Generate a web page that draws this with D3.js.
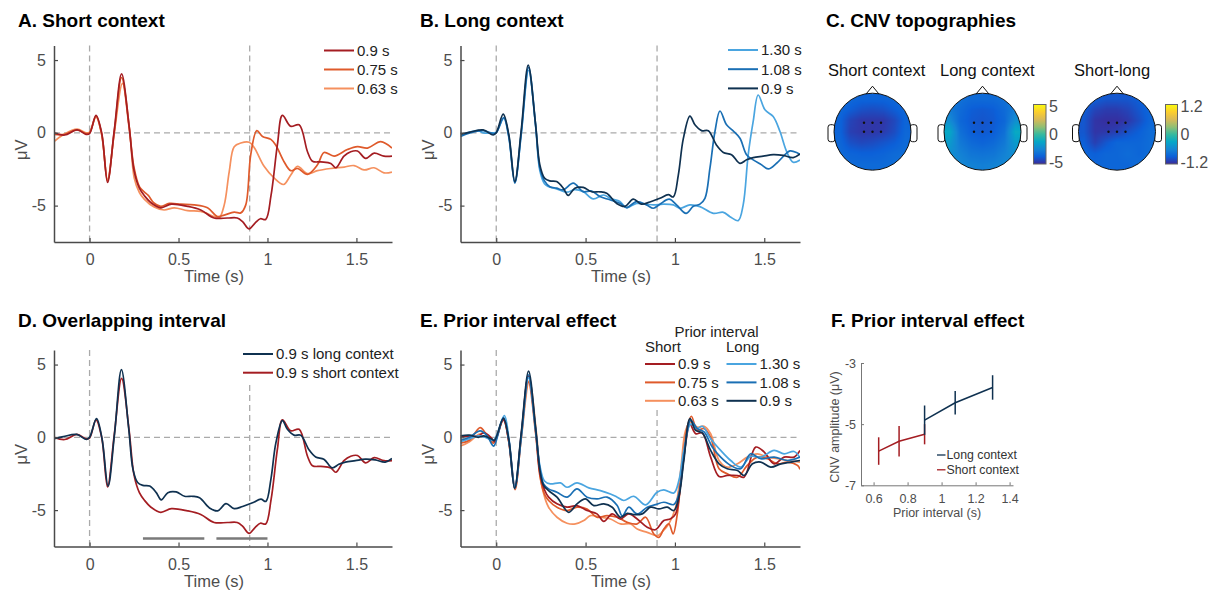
<!DOCTYPE html>
<html><head><meta charset="utf-8">
<script src="https://cdn.jsdelivr.net/npm/d3@7"></script>
<style>
body{margin:0;background:#fff}
svg{display:block;font-family:"Liberation Sans",Arial,Helvetica,sans-serif}
</style>
</head><body><script>
// ---------------- DATA ----------------
const timeDomain = [-0.2, 1.7];
const uvDomain = [-7.5, 6];
const timeTicks = [0, 0.5, 1, 1.5];
const timeTickLabels = ["0", "0.5", "1", "1.5"];
const uvTicks = [-5, 0, 5];
const eventTimes = [0, 0.9];

// Panel A: short context ERPs (time s, amplitude µV)
const shortCtx090 = [[-0.2,0.0],[-0.14,-0.15],[-0.07,0.2],[-0.02,-0.1],[0.0,-0.05],[0.036,1.2],[0.068,0.0],[0.101,-3.4],[0.139,0.2],[0.18,4.05],[0.222,0.5],[0.25,-2.6],[0.28,-3.8],[0.31,-4.35],[0.345,-4.8],[0.40,-5.15],[0.46,-4.9],[0.55,-5.05],[0.625,-5.3],[0.70,-5.85],[0.775,-5.85],[0.83,-5.85],[0.86,-6.1],[0.897,-6.6],[0.93,-6.2],[0.96,-5.9],[0.99,-5.95],[1.02,-4.3],[1.056,-0.8],[1.084,1.2],[1.13,0.45],[1.178,0.55],[1.225,-1.3],[1.253,-1.95],[1.3,-2.0],[1.356,-2.1],[1.384,-2.4],[1.43,-1.6],[1.468,-1.3],[1.506,-1.25],[1.552,-1.75],[1.6,-1.4],[1.655,-1.6],[1.7,-1.6]];
const shortCtx075 = [[-0.2,-0.1],[-0.14,-0.1],[-0.07,0.2],[-0.02,-0.05],[0.0,0.0],[0.036,1.15],[0.068,-0.1],[0.101,-3.3],[0.139,0.1],[0.18,3.8],[0.222,0.4],[0.25,-2.4],[0.28,-3.7],[0.307,-4.05],[0.33,-4.3],[0.36,-4.8],[0.40,-5.05],[0.448,-4.85],[0.513,-4.9],[0.588,-4.95],[0.663,-5.15],[0.719,-5.75],[0.757,-5.65],[0.813,-5.45],[0.85,-5.5],[0.878,-4.95],[0.906,-1.5],[0.94,0.15],[0.972,-0.25],[1.019,-0.45],[1.047,-0.85],[1.094,-2.0],[1.131,-2.6],[1.169,-2.45],[1.225,-2.85],[1.281,-2.2],[1.318,-1.35],[1.375,-1.6],[1.449,-1.15],[1.506,-0.95],[1.562,-1.05],[1.637,-0.6],[1.7,-1.05]];
const shortCtx063 = [[-0.2,-0.6],[-0.15,-0.15],[-0.07,0.25],[-0.02,0.0],[0.0,0.05],[0.036,1.1],[0.068,-0.1],[0.101,-3.2],[0.139,0.0],[0.185,3.4],[0.225,0.2],[0.251,-3.1],[0.28,-4.1],[0.307,-4.55],[0.363,-5.1],[0.419,-5.3],[0.476,-5.15],[0.551,-5.35],[0.625,-5.4],[0.70,-5.75],[0.728,-5.85],[0.757,-4.95],[0.785,-2.66],[0.813,-0.95],[0.85,-0.7],[0.897,-0.65],[0.925,-1.0],[0.981,-2.3],[1.037,-3.1],[1.09,-3.55],[1.131,-2.9],[1.169,-2.3],[1.225,-2.8],[1.281,-2.6],[1.356,-2.45],[1.431,-2.35],[1.487,-2.25],[1.543,-2.55],[1.599,-2.4],[1.655,-2.75],[1.7,-2.7]];

// Panel B: long context ERPs
const longCtx130 = [[-0.2,-0.2],[-0.147,0.05],[-0.1,0.15],[-0.073,0.0],[-0.017,0.0],[0.0,0.05],[0.042,1.0],[0.07,-0.3],[0.104,-3.4],[0.14,-0.1],[0.181,4.3],[0.22,0.5],[0.244,-2.6],[0.27,-3.5],[0.291,-3.69],[0.338,-3.85],[0.394,-4.08],[0.44,-3.9],[0.487,-4.04],[0.543,-4.54],[0.599,-4.27],[0.646,-4.54],[0.692,-4.72],[0.729,-5.14],[0.785,-4.85],[0.841,-4.9],[0.879,-4.95],[0.935,-4.9],[0.991,-4.95],[1.028,-5.18],[1.084,-4.95],[1.14,-5.07],[1.215,-5.53],[1.271,-5.46],[1.308,-5.76],[1.354,-6.03],[1.382,-4.95],[1.41,-1.51],[1.438,0.78],[1.466,2.6],[1.504,1.58],[1.55,1.12],[1.588,0.09],[1.625,-1.28],[1.662,-2.02],[1.7,-1.86]];
const longCtx108 = [[-0.2,-0.25],[-0.147,0.0],[-0.073,0.15],[-0.017,-0.05],[0.0,0.0],[0.042,1.05],[0.07,-0.2],[0.104,-3.45],[0.14,0.0],[0.181,4.5],[0.22,0.6],[0.244,-2.4],[0.27,-3.3],[0.3,-3.7],[0.338,-3.8],[0.375,-3.92],[0.431,-3.46],[0.487,-4.04],[0.534,-4.0],[0.58,-4.38],[0.636,-4.6],[0.692,-4.84],[0.729,-5.14],[0.785,-4.72],[0.841,-4.95],[0.879,-5.18],[0.916,-4.9],[0.968,-4.56],[1.009,-4.95],[1.062,-5.53],[1.103,-5.05],[1.14,-4.9],[1.168,-4.5],[1.196,-2.43],[1.224,0.09],[1.252,1.5],[1.289,0.55],[1.326,0.14],[1.364,-0.37],[1.401,-1.5],[1.438,-1.86],[1.485,-2.2],[1.522,-2.48],[1.569,-2.09],[1.616,-1.5],[1.644,-1.24],[1.681,-1.35],[1.7,-1.5]];
const longCtx090 = [[-0.2,-0.1],[-0.147,0.05],[-0.073,0.2],[-0.017,-0.15],[0.0,0.0],[0.039,1.28],[0.07,-0.1],[0.104,-3.35],[0.14,0.2],[0.179,4.65],[0.22,0.6],[0.244,-2.2],[0.27,-3.1],[0.3,-3.3],[0.338,-3.35],[0.375,-3.8],[0.403,-4.3],[0.44,-3.8],[0.487,-3.75],[0.534,-4.05],[0.58,-4.05],[0.618,-4.15],[0.674,-4.85],[0.72,-5.05],[0.767,-4.55],[0.813,-4.9],[0.86,-4.75],[0.916,-4.5],[0.963,-4.25],[0.991,-4.4],[1.019,-2.9],[1.047,-0.4],[1.084,1.15],[1.112,0.55],[1.149,0.15],[1.187,0.15],[1.233,-0.85],[1.271,-1.35],[1.317,-1.5],[1.364,-2.1],[1.401,-1.85],[1.438,-1.7],[1.494,-1.6],[1.55,-1.5],[1.606,-1.55],[1.662,-1.7],[1.7,-1.45]];

// Panel D: significant clusters (s)
const sigClusters = [[0.3, 0.645], [0.713, 1.0]];

// Panel E: prior interval effect ERPs
const priorShort090 = [[-0.2,0.1],[-0.15,0.05],[-0.1,0.1],[-0.07,0.3],[-0.03,0.0],[-0.01,-0.3],[0.04,1.2],[0.07,-0.2],[0.105,-3.4],[0.14,0.2],[0.18,4.2],[0.22,0.5],[0.245,-2.5],[0.27,-3.6],[0.293,-4.11],[0.34,-4.57],[0.396,-4.8],[0.452,-4.69],[0.508,-5.03],[0.564,-5.26],[0.602,-5.77],[0.649,-5.26],[0.695,-5.61],[0.742,-5.26],[0.789,-5.61],[0.845,-6.18],[0.89,-6.35],[0.938,-5.72],[0.976,-5.6],[1.004,-5.26],[1.032,-3.2],[1.06,-0.44],[1.084,0.9],[1.116,0.25],[1.153,0.3],[1.2,-1.36],[1.247,-2.69],[1.293,-2.62],[1.35,-2.62],[1.387,-2.74],[1.452,-0.67],[1.5,-1.01],[1.555,-1.82],[1.611,-1.36],[1.667,-1.36],[1.7,-0.9]];
const priorShort075 = [[-0.2,-0.4],[-0.15,-0.2],[-0.09,0.67],[-0.05,0.1],[-0.015,-0.4],[0.04,1.3],[0.07,-0.3],[0.105,-3.6],[0.14,0.0],[0.18,3.8],[0.22,0.3],[0.245,-2.7],[0.27,-3.9],[0.293,-4.34],[0.34,-4.8],[0.396,-5.03],[0.452,-4.8],[0.508,-4.92],[0.564,-5.49],[0.62,-5.38],[0.677,-5.49],[0.733,-5.84],[0.789,-5.95],[0.836,-5.49],[0.882,-6.64],[0.91,-6.87],[0.938,-6.3],[0.966,-5.95],[0.99,-6.64],[1.013,-5.3],[1.041,-2.05],[1.069,0.71],[1.092,1.45],[1.125,0.5],[1.163,0.6],[1.2,0.0],[1.247,-2.16],[1.293,-2.5],[1.35,-2.74],[1.405,-1.93],[1.461,-1.36],[1.517,-1.47],[1.574,-1.82],[1.63,-1.7],[1.686,-1.93],[1.7,-2.2]];
const priorShort063 = [[-0.2,-0.6],[-0.15,-0.3],[-0.1,0.2],[-0.06,0.3],[-0.015,-0.3],[0.04,1.2],[0.07,-0.3],[0.105,-3.5],[0.14,-0.1],[0.185,3.9],[0.225,0.3],[0.25,-3.0],[0.273,-4.2],[0.293,-4.8],[0.34,-5.49],[0.396,-5.9],[0.443,-5.95],[0.49,-5.72],[0.527,-5.38],[0.583,-5.49],[0.639,-5.61],[0.695,-5.95],[0.752,-5.95],[0.789,-6.3],[0.845,-6.53],[0.901,-6.76],[0.929,-6.5],[0.966,-5.95],[1.004,-4.8],[1.032,-2.28],[1.06,0.48],[1.088,1.06],[1.125,0.7],[1.163,0.76],[1.2,0.25],[1.247,-1.59],[1.293,-2.05],[1.35,-1.82],[1.405,-1.36],[1.461,-1.13],[1.517,-1.36],[1.574,-1.47],[1.63,-1.59],[1.7,-1.7]];
const priorLong130 = [[-0.2,-0.3],[-0.15,-0.1],[-0.1,0.1],[-0.06,0.0],[-0.015,-0.2],[0.045,1.5],[0.072,-0.2],[0.105,-3.4],[0.14,0.0],[0.181,4.1],[0.22,0.5],[0.245,-2.0],[0.27,-3.0],[0.303,-3.2],[0.359,-3.13],[0.396,-3.43],[0.452,-3.13],[0.518,-3.47],[0.583,-3.66],[0.639,-3.89],[0.677,-4.11],[0.714,-4.34],[0.77,-4.05],[0.836,-4.64],[0.90,-3.77],[0.938,-3.61],[0.994,-3.82],[1.022,-2.97],[1.05,-0.9],[1.088,0.9],[1.125,0.6],[1.153,0.76],[1.2,-0.1],[1.256,-0.9],[1.312,-1.59],[1.368,-2.05],[1.424,-1.31],[1.48,-1.36],[1.555,-0.9],[1.611,-1.13],[1.667,-0.97],[1.7,-1.4]];
const priorLong108 = [[-0.2,-0.2],[-0.15,0.0],[-0.09,0.45],[-0.05,0.1],[-0.015,-0.6],[0.04,1.35],[0.07,-0.2],[0.103,-3.5],[0.14,0.1],[0.181,4.3],[0.22,0.6],[0.245,-2.2],[0.265,-3.2],[0.293,-3.54],[0.34,-3.77],[0.396,-4.11],[0.452,-3.54],[0.508,-4.11],[0.564,-4.23],[0.62,-4.11],[0.677,-4.69],[0.705,-5.4],[0.742,-4.8],[0.789,-5.26],[0.845,-4.8],[0.892,-4.62],[0.938,-4.46],[0.994,-4.62],[1.022,-3.89],[1.05,-1.36],[1.088,1.17],[1.125,0.6],[1.163,0.37],[1.209,-0.67],[1.256,-1.36],[1.312,-1.93],[1.368,-2.16],[1.424,-1.13],[1.48,-1.47],[1.555,-1.36],[1.63,-1.59],[1.7,-1.36]];
const priorLong090 = [[-0.2,0.1],[-0.15,0.15],[-0.1,0.0],[-0.07,0.1],[-0.03,-0.1],[-0.01,-0.2],[0.04,1.3],[0.07,-0.1],[0.103,-3.5],[0.14,0.3],[0.181,4.55],[0.22,0.7],[0.245,-2.3],[0.265,-3.3],[0.293,-3.66],[0.34,-4.11],[0.406,-5.15],[0.452,-4.57],[0.499,-4.23],[0.546,-4.69],[0.602,-4.57],[0.649,-4.8],[0.695,-5.49],[0.733,-5.22],[0.77,-5.31],[0.817,-5.26],[0.864,-4.8],[0.91,-4.92],[0.957,-4.8],[0.994,-5.03],[1.022,-4.11],[1.05,-1.59],[1.084,1.29],[1.116,0.48],[1.153,0.3],[1.2,-0.9],[1.247,-1.82],[1.293,-2.16],[1.35,-2.28],[1.387,-2.62],[1.434,-1.82],[1.48,-1.7],[1.536,-2.05],[1.593,-1.82],[1.649,-1.7],[1.7,-1.59]];

// Panel C: CNV topographies (µV, 7x7 grid, rows front->back)
const topoShort = [
 [-3.4,-3.5,-3.6,-3.6,-3.6,-3.5,-3.4],
 [-3.5,-3.8,-4.1,-4.2,-4.1,-3.8,-3.5],
 [-3.6,-4.4,-4.7,-4.7,-4.7,-4.3,-3.6],
 [-3.6,-4.5,-4.7,-4.7,-4.6,-4.2,-3.5],
 [-3.5,-4.1,-4.3,-4.2,-4.0,-3.8,-3.4],
 [-3.4,-3.6,-3.7,-3.7,-3.6,-3.4,-3.3],
 [-3.3,-3.4,-3.4,-3.4,-3.4,-3.3,-3.2]];
const topoLong = [
 [-3.0,-3.2,-3.4,-3.4,-3.4,-3.2,-2.9],
 [-2.8,-3.4,-3.8,-3.9,-3.8,-3.4,-2.7],
 [-2.2,-3.5,-3.9,-4.0,-3.9,-3.5,-2.1],
 [-1.2,-3.2,-3.8,-3.9,-3.8,-3.2,-1.1],
 [-1.7,-2.9,-3.4,-3.6,-3.4,-2.9,-1.7],
 [-2.1,-2.6,-3.0,-3.1,-3.0,-2.6,-2.1],
 [-2.3,-2.4,-2.6,-2.7,-2.6,-2.4,-2.3]];
const topoDiff = [
 [-0.85,-0.9,-0.95,-0.95,-0.95,-0.9,-0.85],
 [-0.9,-1.05,-1.1,-1.1,-1.05,-0.95,-0.85],
 [-0.95,-1.14,-1.17,-1.17,-1.12,-1.0,-0.85],
 [-0.95,-1.14,-1.12,-1.08,-0.98,-0.9,-0.8],
 [-0.9,-1.08,-0.95,-0.85,-0.85,-0.85,-0.8],
 [-0.85,-0.9,-0.85,-0.85,-0.8,-0.85,-0.8],
 [-0.8,-0.85,-0.85,-0.85,-0.85,-0.8,-0.75]];
const topoTitles = ["Short context", "Long context", "Short-long"];
const cbarTicksMain = [5, 0, -5];
const cbarTicksDiff = [1.2, 0, -1.2];
const parulaStops = ['#3b2a9a','#0c60d8','#1485d4','#06a7c6','#38b99e','#92bf73','#d9ba56','#fcce2e','#f9fb0e'];

// Panel F: CNV amplitude vs prior interval
const priorShortX = [0.63, 0.75, 0.9];
const cnvShort = [-5.88, -5.56, -5.33];
const errShort = [0.45, 0.5, 0.33];
const priorLongX = [0.9, 1.08, 1.3];
const cnvLong = [-4.87, -4.3, -3.8];
const errLong = [0.48, 0.385, 0.4];
const fXTicks = [0.6, 0.8, 1, 1.2, 1.4];
const fYTicks = [-3, -5, -7];

// colours
const C = {red:'#a41d22', orange:'#df5a2b', lorange:'#f5905e', lblue:'#4aa5e0', mblue:'#1a6fb4', navy:'#0f3150'};

// ---------------- DRAW ----------------
const W = 1210, H = 592;
const svg = d3.select('body').append('svg').attr('width', W).attr('height', H);
const AX = '#4a4a4a', TXT = '#4d4d4d';

function title(x, y, s) {
  svg.append('text').attr('x', x).attr('y', y).attr('font-size', 19).attr('font-weight', 'bold').attr('fill', '#000').text(s);
}

function erpPanel(o) {
  const g = svg.append('g');
  const x = d3.scaleLinear().domain(timeDomain).range([o.x0, o.x1]);
  const y = d3.scaleLinear().domain(uvDomain).range([o.y1, o.y0]);
  const cid = 'clip' + o.key;
  svg.append('clipPath').attr('id', cid).append('rect')
    .attr('x', o.x0).attr('y', o.y0 - 10).attr('width', o.x1 - o.x0).attr('height', o.y1 - o.y0 + 10);
  const dash = {stroke: '#aaaaaa', 'stroke-width': 1.3, 'stroke-dasharray': '6,4'};
  const hl = g.append('line').attr('x1', o.x0).attr('x2', o.x1).attr('y1', y(0)).attr('y2', y(0));
  Object.entries(dash).forEach(([k, v]) => hl.attr(k, v));
  eventTimes.forEach((t, i) => {
    const top = (i === 1 && o.vTop) ? o.vTop : o.y0;
    const l = g.append('line').attr('x1', x(t)).attr('x2', x(t)).attr('y1', top).attr('y2', o.y1);
    Object.entries(dash).forEach(([k, v]) => l.attr(k, v));
  });
  if (o.sig) {
    o.sig.forEach(s => g.append('line').attr('x1', x(s[0])).attr('x2', x(s[1]))
      .attr('y1', o.sigY).attr('y2', o.sigY).attr('stroke', '#7a7a7a').attr('stroke-width', 2.5));
  }
  const line = d3.line().x(d => x(d[0])).y(d => y(d[1])).curve(d3.curveCatmullRom.alpha(0.5));
  const cg = g.append('g').attr('clip-path', `url(#${cid})`);
  o.series.forEach(s => cg.append('path').attr('d', line(s.data)).attr('fill', 'none')
    .attr('stroke', s.color).attr('stroke-width', 1.7).attr('stroke-linejoin', 'round'));
  // axes
  const ya = g.append('g').attr('transform', `translate(${o.x0},0)`)
    .call(d3.axisLeft(y).tickValues(uvTicks).tickFormat(d => String(d)).tickSizeInner(-4).tickSizeOuter(0).tickPadding(8));
  const xa = g.append('g').attr('transform', `translate(0,${o.y1})`)
    .call(d3.axisBottom(x).tickValues(timeTicks).tickFormat((d, i) => timeTickLabels[i]).tickSizeInner(-4).tickSizeOuter(0).tickPadding(12));
  [ya, xa].forEach(a => {
    a.select('.domain').attr('stroke', AX).attr('stroke-width', 1.5);
    a.selectAll('.tick line').attr('stroke', AX).attr('stroke-width', 1.2);
    a.selectAll('.tick text').attr('fill', TXT).attr('font-size', 16).attr('font-family', null);
  });
  g.append('text').attr('x', o.xLabelX).attr('y', o.y1 + 40).attr('text-anchor', 'middle')
    .attr('font-size', 16.5).attr('fill', TXT).text('Time (s)');
  g.append('text').attr('transform', `translate(${o.x0 - 27},${(o.y0 + o.y1) / 2 + 6}) rotate(-90)`)
    .attr('text-anchor', 'middle').attr('font-size', 16.5).attr('fill', TXT).text('μV');
  return {x, y, g};
}

function legendRows(g, lx, rows, y0, dy) {
  rows.forEach((r, i) => {
    const yy = y0 + i * dy;
    g.append('line').attr('x1', lx).attr('x2', lx + 30).attr('y1', yy).attr('y2', yy)
      .attr('stroke', r.color).attr('stroke-width', 2);
    g.append('text').attr('x', lx + 33).attr('y', yy).attr('dy', '0.36em').attr('font-size', 15)
      .attr('fill', '#222').text(r.label);
  });
}

// Panel A
title(18, 27, 'A. Short context');
const pA = erpPanel({key: 'A', x0: 54, x1: 392, y0: 45.5, y1: 242, xLabelX: 214,
  series: [{data: shortCtx063, color: C.lorange}, {data: shortCtx075, color: C.orange}, {data: shortCtx090, color: C.red}]});
legendRows(pA.g, 324, [{label: '0.9 s', color: C.red}, {label: '0.75 s', color: C.orange}, {label: '0.63 s', color: C.lorange}], 50.5, 19);

// Panel B
title(420, 27, 'B. Long context');
const pB = erpPanel({key: 'B', x0: 460.5, x1: 800, y0: 45.5, y1: 242, xLabelX: 621,
  series: [{data: longCtx130, color: C.lblue}, {data: longCtx108, color: C.mblue}, {data: longCtx090, color: C.navy}]});
legendRows(pB.g, 728, [{label: '1.30 s', color: C.lblue}, {label: '1.08 s', color: C.mblue}, {label: '0.9 s', color: C.navy}], 50, 19.2);

// Panel D
title(18, 327, 'D. Overlapping interval');
const pD = erpPanel({key: 'D', x0: 54, x1: 392, y0: 350, y1: 546.5, xLabelX: 214, vTop: 385,
  sig: sigClusters, sigY: 538.5,
  series: [{data: shortCtx090, color: C.red}, {data: longCtx090, color: C.navy}]});
legendRows(pD.g, 243, [{label: '0.9 s long context', color: C.navy}, {label: '0.9 s short context', color: C.red}], 354, 18.7);

// Panel E
title(420, 327, 'E. Prior interval effect');
const pE = erpPanel({key: 'E', x0: 460.5, x1: 800, y0: 350, y1: 546.5, xLabelX: 621, vTop: 410,
  series: [{data: priorShort063, color: C.lorange}, {data: priorShort075, color: C.orange}, {data: priorShort090, color: C.red},
           {data: priorLong130, color: C.lblue}, {data: priorLong108, color: C.mblue}, {data: priorLong090, color: C.navy}]});
pE.g.append('text').attr('x', 716.5).attr('y', 331.5).attr('dy', '0.36em').attr('text-anchor', 'middle').attr('font-size', 15).attr('fill', '#222').text('Prior interval');
pE.g.append('text').attr('x', 645).attr('y', 346.5).attr('dy', '0.36em').attr('font-size', 15).attr('fill', '#222').text('Short');
pE.g.append('text').attr('x', 726).attr('y', 346.5).attr('dy', '0.36em').attr('font-size', 15).attr('fill', '#222').text('Long');
legendRows(pE.g, 645, [{label: '0.9 s', color: C.red}, {label: '0.75 s', color: C.orange}, {label: '0.63 s', color: C.lorange}], 364, 18.4);
legendRows(pE.g, 726.5, [{label: '1.30 s', color: C.lblue}, {label: '1.08 s', color: C.mblue}, {label: '0.9 s', color: C.navy}], 364, 18.4);

// Panel C: topographies
title(826, 27, 'C. CNV topographies');
function parula(lo, hi) {
  return d3.scaleLinear().domain(parulaStops.map((_, i) => lo + (hi - lo) * i / (parulaStops.length - 1)))
    .range(parulaStops).interpolate(d3.interpolateRgb).clamp(true);
}
function topo(cx, cy, r, grid, color, key) {
  const n = grid.length, size = Math.round(2 * r);
  const cv = document.createElement('canvas'); cv.width = size; cv.height = size;
  const ctx = cv.getContext('2d'); const img = ctx.createImageData(size, size);
  for (let py = 0; py < size; py++) for (let px = 0; px < size; px++) {
    const gx = Math.min(Math.max((px + 0.5) / size * n - 0.5, 0), n - 1);
    const gy = Math.min(Math.max((py + 0.5) / size * n - 0.5, 0), n - 1);
    const i0 = Math.floor(gx), j0 = Math.floor(gy), i1 = Math.min(i0 + 1, n - 1), j1 = Math.min(j0 + 1, n - 1);
    const fx = gx - i0, fy = gy - j0;
    const v = grid[j0][i0] * (1 - fx) * (1 - fy) + grid[j0][i1] * fx * (1 - fy) + grid[j1][i0] * (1 - fx) * fy + grid[j1][i1] * fx * fy;
    const c = d3.rgb(color(v)); const k = (py * size + px) * 4;
    img.data[k] = c.r; img.data[k + 1] = c.g; img.data[k + 2] = c.b; img.data[k + 3] = 255;
  }
  ctx.putImageData(img, 0, 0);
  const g = svg.append('g');
  g.append('path').attr('d', `M${cx - 7},${cy - r + 1.5} L${cx},${cy - r - 7} L${cx + 7},${cy - r + 1.5}`)
    .attr('fill', '#fff').attr('stroke', '#111').attr('stroke-width', 1);
  [-1, 1].forEach(sgn => {
    g.append('rect').attr('x', sgn < 0 ? cx - r - 6 : cx + r - 1).attr('y', cy - 7).attr('width', 7).attr('height', 17)
      .attr('rx', 2.5).attr('fill', '#fff').attr('stroke', '#111').attr('stroke-width', 1);
  });
  svg.append('clipPath').attr('id', 'hc' + key).append('circle').attr('cx', cx).attr('cy', cy).attr('r', r);
  g.append('image').attr('href', cv.toDataURL()).attr('x', cx - r).attr('y', cy - r)
    .attr('width', 2 * r).attr('height', 2 * r).attr('preserveAspectRatio', 'none').attr('clip-path', `url(#hc${key})`);
  g.append('circle').attr('cx', cx).attr('cy', cy).attr('r', r).attr('fill', 'none').attr('stroke', '#111').attr('stroke-width', 1);
  [-8.5, 0, 8.5].forEach(dx => [-9, 0].forEach(dy => g.append('circle').attr('cx', cx + dx).attr('cy', cy + dy).attr('r', 1.2).attr('fill', '#111')));
}
function colorbar(x0, y0, w, h, lo, hi, ticks, key) {
  const grad = svg.append('defs').append('linearGradient').attr('id', 'cb' + key)
    .attr('x1', 0).attr('y1', 1).attr('x2', 0).attr('y2', 0);
  parulaStops.forEach((c, i) => grad.append('stop').attr('offset', i / (parulaStops.length - 1)).attr('stop-color', c));
  svg.append('rect').attr('x', x0).attr('y', y0).attr('width', w).attr('height', h).attr('fill', `url(#cb${key})`)
    .attr('stroke', '#666').attr('stroke-width', 1);
  const ys = d3.scaleLinear().domain([lo, hi]).range([y0 + h - 2, y0 + 2]);
  ticks.forEach(t => svg.append('text').attr('x', x0 + w + 3).attr('y', ys(t)).attr('dy', '0.36em')
    .attr('font-size', 16).attr('fill', TXT).text(String(t)));
}
const headCX = [872.5, 982.5, 1117];
const subX = [828, 940, 1074];
topoTitles.forEach((t, i) => svg.append('text').attr('x', subX[i]).attr('y', 76).attr('font-size', 16.5).attr('fill', '#111').text(t));
topo(headCX[0], 131.7, 38.5, topoShort, parula(-5, 5), 0);
topo(headCX[1], 131.7, 38.5, topoLong, parula(-5, 5), 1);
topo(headCX[2], 131.7, 38.5, topoDiff, parula(-1.2, 1.2), 2);
colorbar(1033.5, 104.5, 12.5, 59.5, -5, 5, cbarTicksMain, 0);
colorbar(1165.5, 104.5, 12, 59.5, -1.2, 1.2, cbarTicksDiff, 1);

// Panel F
title(831, 327, 'F. Prior interval effect');
const fx = d3.scaleLinear().domain([0.526, 1.42]).range([861, 1013]);
const fy = d3.scaleLinear().domain([-7, -3]).range([485.3, 363]);
const fg = svg.append('g');
const fya = fg.append('g').attr('transform', 'translate(861,0)')
  .call(d3.axisLeft(fy).tickValues(fYTicks).tickFormat(d => String(d)).tickSizeInner(-3).tickSizeOuter(0).tickPadding(5));
const fxa = fg.append('g').attr('transform', 'translate(0,485.3)')
  .call(d3.axisBottom(fx).tickValues(fXTicks).tickFormat(d => String(d)).tickSizeInner(-3).tickSizeOuter(0).tickPadding(9));
[fya, fxa].forEach(a => {
  a.select('.domain').attr('stroke', '#777').attr('stroke-width', 1);
  a.selectAll('.tick line').attr('stroke', '#777');
  a.selectAll('.tick text').attr('fill', TXT).attr('font-size', 12.5).attr('font-family', null);
});
fg.append('text').attr('x', 937).attr('y', 512.5).attr('dy', '0.36em').attr('text-anchor', 'middle').attr('font-size', 12.5).attr('fill', TXT).text('Prior interval (s)');
fg.append('text').attr('transform', 'translate(839,427) rotate(-90)').attr('text-anchor', 'middle').attr('font-size', 12.5).attr('fill', TXT).text('CNV amplitude (μV)');
function fSeries(xs, ys, es, color) {
  const pts = xs.map((v, i) => [v, ys[i], es[i]]);
  fg.append('path').attr('d', d3.line().x(d => fx(d[0])).y(d => fy(d[1]))(pts)).attr('fill', 'none').attr('stroke', color).attr('stroke-width', 1.5);
  pts.forEach(d => fg.append('line').attr('x1', fx(d[0])).attr('x2', fx(d[0])).attr('y1', fy(d[1] - d[2])).attr('y2', fy(d[1] + d[2]))
    .attr('stroke', color).attr('stroke-width', 1.5));
}
fSeries(priorShortX, cnvShort, errShort, C.red);
fSeries(priorLongX, cnvLong, errLong, C.navy);
[{label: 'Long context', color: C.navy}, {label: 'Short context', color: C.red}].forEach((r, i) => {
  const yy = 455 + i * 14.8;
  fg.append('line').attr('x1', 937).attr('x2', 945.5).attr('y1', yy).attr('y2', yy).attr('stroke', r.color).attr('stroke-width', 1.3);
  fg.append('text').attr('x', 946.5).attr('y', yy).attr('dy', '0.36em').attr('font-size', 12.3).attr('fill', '#333').text(r.label);
});
</script></body></html>
